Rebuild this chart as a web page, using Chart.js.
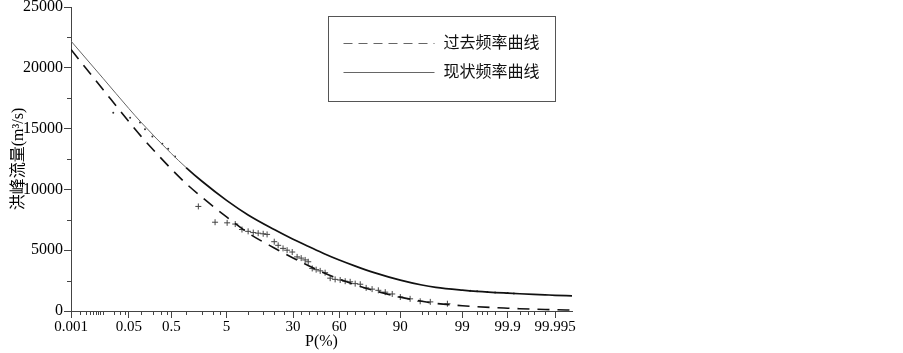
<!DOCTYPE html>
<html>
<head>
<meta charset="utf-8">
<script src="https://cdn.jsdelivr.net/npm/chart.js@4.4.0/dist/chart.umd.min.js"></script>
<style>
  html, body { margin: 0; padding: 0; background: #fff; }
</style>
</head>
<body>
<canvas id="chart" width="903" height="353"></canvas>
<script>
// exceedance probability P(%) where the two fitted curves were read
const curveP = [0.001, 0.01, 0.05, 0.1, 0.5, 1, 2, 5, 10, 20, 30, 40, 50, 60, 70, 80, 90, 95, 97, 99, 99.5, 99.9, 99.95, 99.99, 99.995, 99.9985];
// 过去频率曲线 (dashed)
const pastQ = [21500, 18170, 15570, 14400, 11680, 10480, 9330, 7740, 6420, 5180, 4360, 3700, 3130, 2620, 2160, 1680, 1140, 800, 620, 430, 350, 230, 190, 120, 100, 80];
// 现状频率曲线 (solid)
const nowQ = [22200, 19100, 16650, 15550, 12950, 11800, 10650, 9100, 7900, 6700, 5900, 5280, 4710, 4190, 3690, 3160, 2540, 2140, 1950, 1720, 1620, 1470, 1420, 1330, 1290, 1250];

// measured floods, "+" markers
const obsPastP = [1.7, 3.3, 5.1, 6.7, 8.3, 10, 11.6, 13.3, 15.2, 16.8, 20, 21.9, 24.4, 26.6, 29.5, 32.4, 34.9, 37.4, 39.4, 42, 44.6, 47.3, 50.6, 54, 57.3, 60.6, 63.8, 66.9, 69.9, 72.8, 76, 79, 81.9, 84.8, 87.4, 90, 92.6, 94.7, 96.3, 98.1];
const obsPastQ = [8600, 7300, 7250, 7150, 6700, 6550, 6450, 6400, 6350, 6300, 5700, 5400, 5150, 5000, 4850, 4450, 4350, 4200, 4050, 3500, 3400, 3300, 3150, 2700, 2600, 2550, 2450, 2400, 2250, 2200, 1900, 1800, 1700, 1550, 1400, 1150, 1000, 800, 750, 600];

// small dots lying along the present-day curve
const obsNowP = [0.019, 0.054, 0.096, 0.127, 0.19, 0.32, 0.43, 0.6, 99.3, 99.5, 99.7, 99.8, 99.9, 99.93];
const obsNowQ = [16300, 15900, 15500, 14950, 14350, 13750, 13350, 12700, 1660, 1620, 1560, 1520, 1480, 1440];

const xTickLabels = ['0.001', '0.05', '0.5', '5', '30', '60', '90', '99', '99.9', '99.995'];
const xMinorP = [0.002, 0.003, 0.004, 0.005, 0.006, 0.007, 0.008, 0.01, 0.02, 0.03, 0.04, 0.1, 0.2, 0.3, 0.4,
  1, 2, 3, 4, 10, 15, 20, 25, 35, 40, 45, 50, 55, 65, 70, 75, 80, 85, 95, 96, 97, 98,
  99.5, 99.6, 99.7, 99.8, 99.95, 99.97, 99.98, 99.99];
const yMinor = [2500, 7500, 12500, 17500, 22500];
const seriesNames = ['过去频率曲线', '现状频率曲线'];

const FONT = "'Liberation Serif', 'Noto Sans CJK SC', serif";

// inverse normal CDF (Acklam) -> probability-paper x coordinate
function probit(p) {
  const a = [-3.969683028665376e+01, 2.209460984245205e+02, -2.759285104469687e+02, 1.383577518672690e+02, -3.066479806614716e+01, 2.506628277459239e+00];
  const b = [-5.447609879822406e+01, 1.615858368580409e+02, -1.556989798598866e+02, 6.680131188771972e+01, -1.328068155288572e+01];
  const c = [-7.784894002430293e-03, -3.223964580411365e-01, -2.400758277161838e+00, -2.549732539343734e+00, 4.374664141464968e+00, 2.938163982698783e+00];
  const d = [7.784695709041462e-03, 3.224671290700398e-01, 2.445134137142996e+00, 3.754408661907416e+00];
  const pl = 0.02425;
  let q, r;
  if (p < pl) {
    q = Math.sqrt(-2 * Math.log(p));
    return (((((c[0]*q+c[1])*q+c[2])*q+c[3])*q+c[4])*q+c[5]) / ((((d[0]*q+d[1])*q+d[2])*q+d[3])*q+1);
  }
  if (p > 1 - pl) {
    q = Math.sqrt(-2 * Math.log(1 - p));
    return -(((((c[0]*q+c[1])*q+c[2])*q+c[3])*q+c[4])*q+c[5]) / ((((d[0]*q+d[1])*q+d[2])*q+d[3])*q+1);
  }
  q = p - 0.5; r = q * q;
  return (((((a[0]*r+a[1])*r+a[2])*r+a[3])*r+a[4])*r+a[5])*q / (((((b[0]*r+b[1])*r+b[2])*r+b[3])*r+b[4])*r+1);
}
const xz = p => probit(p / 100);

function toPoints(ps, qs) {
  return ps.map((p, i) => ({ x: xz(p), y: qs[i] }));
}

// minor ticks + boxed legend
const paperPlugin = {
  id: 'paper',
  afterDraw(chart) {
    const ctx = chart.ctx;
    const ca = chart.chartArea;
    const xs = chart.scales.x, ys = chart.scales.y;
    ctx.save();
    ctx.strokeStyle = '#444';
    ctx.lineWidth = 1;
    ctx.beginPath();
    xMinorP.forEach(p => {
      const px = Math.round(xs.getPixelForValue(xz(p))) + 0.5;
      ctx.moveTo(px, ca.bottom);
      ctx.lineTo(px, ca.bottom + 4);
    });
    yMinor.forEach(v => {
      const py = Math.round(ys.getPixelForValue(v)) + 0.5;
      ctx.moveTo(ca.left - 4, py);
      ctx.lineTo(ca.left, py);
    });
    ctx.stroke();

    // legend
    const bx = ca.left + 257.5, by = ca.top + 9.5, bw = 227, bh = 85;
    ctx.strokeStyle = '#555';
    ctx.strokeRect(bx, by, bw, bh);
    ctx.font = '16px ' + FONT;
    ctx.fillStyle = '#111';
    ctx.textBaseline = 'middle';
    const rows = [by + 27, by + 56];
    ctx.strokeStyle = '#666';
    ctx.lineWidth = 1.2;
    ctx.setLineDash([9, 6]);
    ctx.beginPath(); ctx.moveTo(bx + 15, rows[0]); ctx.lineTo(bx + 106, rows[0]); ctx.stroke();
    ctx.setLineDash([]);
    ctx.beginPath(); ctx.moveTo(bx + 15, rows[1]); ctx.lineTo(bx + 106, rows[1]); ctx.stroke();
    ctx.fillText(seriesNames[0], bx + 115, rows[0]);
    ctx.fillText(seriesNames[1], bx + 115, rows[1]);
    ctx.restore();
  }
};

const thinUntil = xz(0.6);

new Chart(document.getElementById('chart'), {
  type: 'scatter',
  data: {
    datasets: [
      {
        label: seriesNames[0],
        data: toPoints(curveP, pastQ),
        showLine: true,
        borderColor: '#111',
        borderWidth: 1.6,
        borderDash: [12, 8],
        pointRadius: 0,
        cubicInterpolationMode: 'monotone'
      },
      {
        label: seriesNames[1],
        data: toPoints(curveP, nowQ),
        showLine: true,
        borderColor: '#222',
        borderWidth: 1.6,
        pointRadius: 0,
        cubicInterpolationMode: 'monotone',
        segment: {
          borderColor: c => c.p0.parsed.x < thinUntil ? '#666' : '#111',
          borderWidth: c => c.p0.parsed.x < thinUntil ? 1 : 1.7
        }
      },
      {
        label: 'obs past',
        data: toPoints(obsPastP, obsPastQ),
        pointStyle: 'cross',
        pointRadius: 3,
        borderColor: '#444',
        borderWidth: 1
      },
      {
        label: 'obs now',
        data: toPoints(obsNowP, obsNowQ),
        pointStyle: 'circle',
        pointRadius: 1,
        backgroundColor: '#333',
        borderColor: '#333',
        borderWidth: 0
      }
    ]
  },
  options: {
    responsive: false,
    animation: false,
    layout: { padding: { top: 0, right: 331, bottom: 0, left: 0 } },
    plugins: { legend: { display: false }, tooltip: { enabled: false } },
    scales: {
      x: {
        type: 'linear',
        min: xz(0.001),
        max: xz(99.9985),
        afterBuildTicks: s => { s.ticks = xTickLabels.map(t => ({ value: xz(+t) })); },
        afterFit: s => { s.height = 42; },
        ticks: {
          autoSkip: false,
          maxRotation: 0,
          padding: 0,
          color: '#000',
          font: { family: FONT, size: 15 },
          callback: (v, i) => xTickLabels[i]
        },
        grid: { display: true, drawOnChartArea: false, tickLength: 7, color: '#444' },
        border: { display: true, color: '#444', width: 1 },
        title: { display: true, text: 'P(%)', color: '#000', font: { family: FONT, size: 16 }, padding: { top: 0, bottom: 2 } }
      },
      y: {
        min: 0,
        max: 25000,
        afterFit: s => { s.width = 71; },
        ticks: {
          stepSize: 5000,
          padding: 1,
          color: '#000',
          font: { family: FONT, size: 16, lineHeight: 0.75 },
          callback: v => String(v)
        },
        grid: { display: true, drawOnChartArea: false, tickLength: 7, color: '#444' },
        border: { display: true, color: '#444', width: 1 },
        title: { display: true, text: '洪峰流量(m³/s)', color: '#000', font: { family: FONT, size: 16 }, padding: { top: 9, bottom: 0 } }
      }
    }
  },
  plugins: [paperPlugin]
});
</script>
</body>
</html>
